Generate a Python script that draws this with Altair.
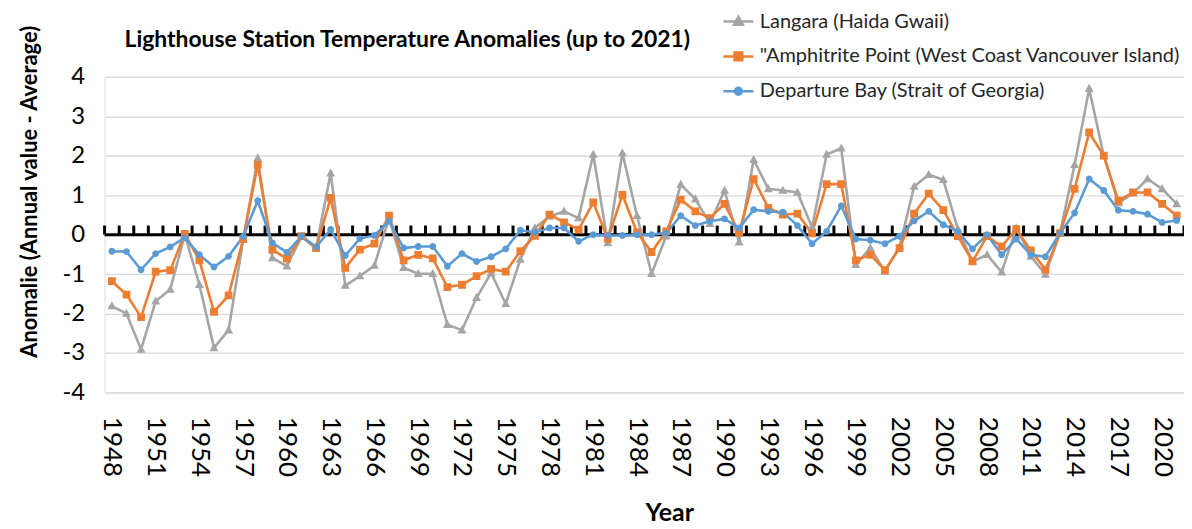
import altair as alt
import pandas as pd

years = list(range(1948, 2022))

langara = [-1.81, -2.00, -2.91, -1.69, -1.39, 0.00, -1.27, -2.87, -2.42, -0.13,
           1.94, -0.59, -0.80, -0.05, -0.34, 1.56, -1.29, -1.05, -0.78, 0.42,
           -0.84, -0.99, -0.99, -2.28, -2.42, -1.60, -0.97, -1.75, -0.63, 0.17,
           0.46, 0.59, 0.42, 2.03, -0.21, 2.07, 0.48, -0.99, -0.04, 1.27,
           0.90, 0.28, 1.12, -0.19, 1.90, 1.16, 1.12, 1.07, 0.19, 2.03,
           2.19, -0.76, -0.34, -0.93, -0.30, 1.22, 1.52, 1.39, 0.14, -0.68,
           -0.51, -0.95, 0.17, -0.55, -1.01, 0.04, 1.77, 3.70, 2.00, 0.80,
           1.05, 1.41, 1.16, 0.78]

amphitrite = [-1.18, -1.52, -2.09, -0.94, -0.90, 0.02, -0.65, -1.96, -1.54, -0.11,
              1.77, -0.38, -0.61, -0.04, -0.34, 0.93, -0.84, -0.38, -0.23, 0.48,
              -0.65, -0.51, -0.60, -1.33, -1.27, -1.05, -0.87, -0.94, -0.42, -0.03,
              0.51, 0.31, 0.13, 0.82, -0.11, 1.01, 0.06, -0.44, 0.08, 0.89,
              0.59, 0.42, 0.78, 0.05, 1.41, 0.68, 0.51, 0.53, 0.03, 1.28,
              1.28, -0.65, -0.51, -0.90, -0.34, 0.53, 1.04, 0.62, -0.04, -0.68,
              -0.04, -0.30, 0.14, -0.40, -0.89, 0.04, 1.16, 2.59, 2.00, 0.86,
              1.07, 1.07, 0.78, 0.48]

departure = [-0.42, -0.43, -0.89, -0.48, -0.31, -0.08, -0.51, -0.82, -0.55, -0.05,
             0.86, -0.21, -0.45, -0.04, -0.31, 0.13, -0.53, -0.10, -0.02, 0.34,
             -0.34, -0.30, -0.30, -0.80, -0.48, -0.68, -0.56, -0.36, 0.11, 0.06,
             0.17, 0.17, -0.17, 0.00, -0.02, -0.02, 0.00, 0.00, 0.04, 0.48,
             0.23, 0.34, 0.40, 0.17, 0.63, 0.59, 0.57, 0.23, -0.23, 0.08,
             0.73, -0.11, -0.14, -0.23, -0.04, 0.35, 0.59, 0.25, 0.08, -0.36,
             0.00, -0.51, -0.11, -0.51, -0.56, 0.04, 0.55, 1.41, 1.12, 0.62,
             0.59, 0.52, 0.31, 0.36]

series_names = ["Langara (Haida Gwaii)",
                "\"Amphitrite Point (West Coast Vancouver Island)",
                "Departure Bay (Strait of Georgia)"]
series_colors = ["#A5A5A5", "#ED7D31", "#5B9BD5"]
# marker shapes (a short horizontal stroke is included so the legend shows line + marker)
marker_paths = [
    "M-1,0H1M0,-0.32L0.3,0.22L-0.3,0.22Z",
    "M-1,0H1M-0.26,-0.26H0.26V0.26H-0.26Z",
    "M-1,0H1M0.23,0A0.23,0.23,0,1,1,-0.23,0A0.23,0.23,0,1,1,0.23,0Z",
]
y_ticks = list(range(-4, 5))
x_label_years = list(range(1948, 2022, 3))
chart_title = "Lighthouse Station Temperature Anomalies (up to 2021)"

rows = []
for name, vals in zip(series_names, [langara, amphitrite, departure]):
    for yr, v in zip(years, vals):
        rows.append({"Year": yr, "Anomaly": v, "Series": name})
df = pd.DataFrame(rows)

bounds = [y - 0.5 for y in years] + [years[-1] + 0.5]
ticks_df = pd.DataFrame({"b": bounds, "y0": [0.0] * len(bounds), "y1": [0.23] * len(bounds)})
zero_df = pd.DataFrame({"v": [0.0]})
title_df = pd.DataFrame({"t": [chart_title]})

FONT = "Lato"
x_scale = alt.Scale(domain=[1947.5, 2021.5], nice=False, zero=False)
y_scale = alt.Scale(domain=[-4, 4], nice=False, zero=False)
color_scale = alt.Scale(domain=series_names, range=series_colors)
shape_scale = alt.Scale(domain=series_names, range=marker_paths)

x_axis = alt.Axis(values=x_label_years, format="d", labelAngle=90, labelAlign="left",
                  labelBaseline="middle", labelFontSize=26, labelFont=FONT,
                  labelColor="#000000", labelPadding=24, labelFlush=False,
                  labelOverlap=False, grid=False, domain=False, ticks=False,
                  title="Year", titleFont=FONT, titleFontSize=25, titleFontWeight="bold",
                  titleColor="#000000", titleX=567, titleY=121, titleAlign="center",
                  titleBaseline="middle", titleAngle=0)
y_axis = alt.Axis(values=y_ticks, labelExpr="'' + datum.value", grid=True,
                  gridColor="#D9D9D9", gridWidth=1.3, labelOverlap=False,
                  domain=False, ticks=False, labelFontSize=24, labelFont=FONT,
                  labelColor="#000000", labelPadding=20,
                  title="Anomalie (Annual value - Average)", titleFont=FONT,
                  titleFontSize=22, titleFontWeight="bold", titleColor="#000000",
                  titleX=-75, titleY=115, titleAngle=270, titleAlign="center",
                  titleBaseline="middle")

legend = alt.Legend(title=None, orient="none", legendX=620, legendY=-72,
                    labelFont=FONT, labelFontSize=20, labelColor="#262626",
                    symbolSize=900, symbolStrokeWidth=2.5, labelOffset=5,
                    rowPadding=8, padding=0, labelLimit=700)

X_year = alt.X("Year:Q", scale=x_scale, axis=x_axis)
Y_anom = alt.Y("Anomaly:Q", scale=y_scale, axis=y_axis)

zero_line = alt.Chart(zero_df).mark_rule(color="#000000", strokeWidth=3).encode(
    y=alt.Y("v:Q", scale=y_scale, axis=y_axis)
)
tick_marks = alt.Chart(ticks_df).mark_rule(color="#000000", strokeWidth=3).encode(
    x=alt.X("b:Q", scale=x_scale, axis=x_axis),
    y=alt.Y("y0:Q", scale=y_scale, axis=y_axis),
    y2="y1:Q",
)
lines = alt.Chart(df).mark_line(strokeWidth=2.6).encode(
    x=X_year,
    y=Y_anom,
    detail="Series:N",
    color=alt.Color("Series:N", scale=color_scale, legend=legend),
)
points = alt.Chart(df).mark_point(filled=True, size=900, opacity=1, strokeWidth=0).encode(
    x=X_year,
    y=Y_anom,
    color=alt.Color("Series:N", scale=color_scale, legend=legend),
    stroke=alt.Stroke("Series:N", scale=color_scale, legend=legend),
    shape=alt.Shape("Series:N", scale=shape_scale, legend=legend),
)
title_text = alt.Chart(title_df).mark_text(
    align="left", baseline="middle", font=FONT, fontSize=23, fontWeight="bold",
    color="#000000"
).encode(text="t:N", x=alt.value(20), y=alt.value(-37))

chart = alt.layer(zero_line, tick_marks, lines, points, title_text).properties(
    width=1084, height=317,
    autosize=alt.AutoSizeParams(type="none"),
    padding={"left": 97, "top": 68, "right": 0, "bottom": 136},
).configure_view(stroke=None).configure(background="#FFFFFF")

chart.save("out.html", embed_options={"renderer": "svg", "actions": False})
